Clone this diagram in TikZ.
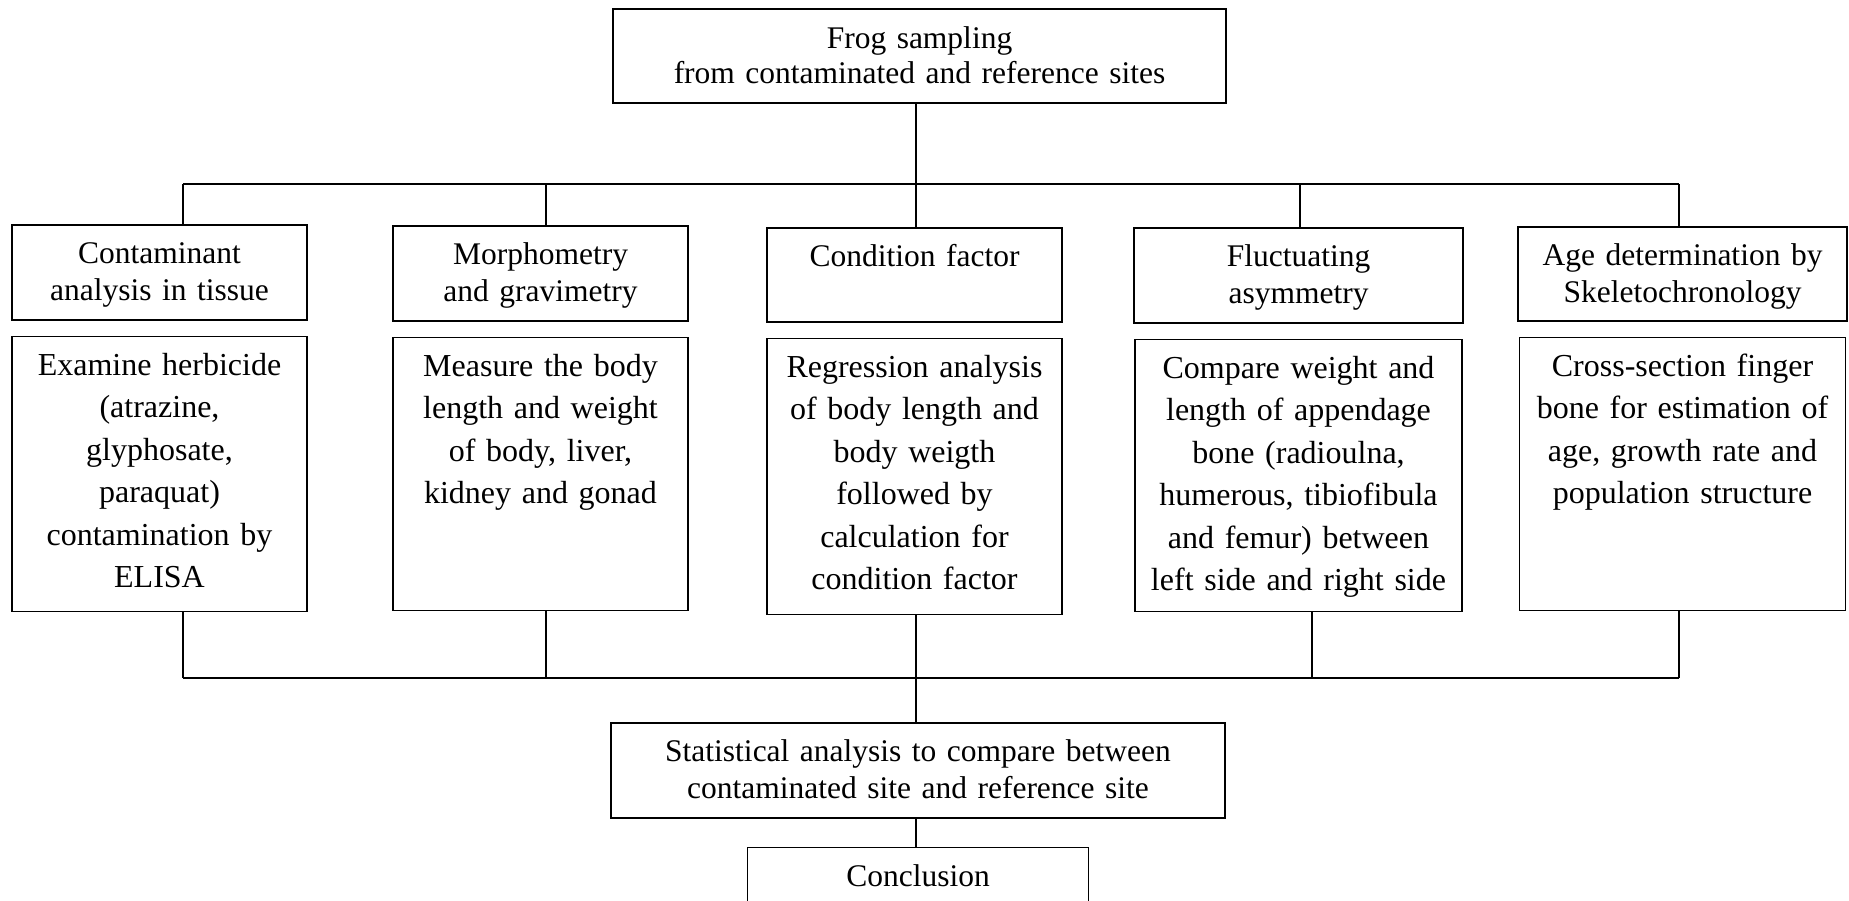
\documentclass[tikz,border=0pt]{standalone}
\usepackage{fontspec}
\setmainfont{Liberation Serif}
\usetikzlibrary{positioning}

\begin{document}
\begin{tikzpicture}[x=1pt, y=-1pt,
  every node/.style={align=center},
  box/.style={draw, line width=1.6pt, anchor=north, inner xsep=0pt,
              inner ysep=0pt, text height=39pt},
  head/.style={box, font=\fontsize{31.5}{37}\selectfont},
  detail/.style={box, font=\fontsize{32}{42.5}\selectfont},
  link/.style={line width=1.6pt}
]
  \useasboundingbox (0,0) rectangle (1849,901);

  \node (top) at (919.5,8) [box, font=\fontsize{31.5}{35}\selectfont,
       text height=40pt, text depth=54pt, text width=613pt]
       {Frog sampling\\ from contaminated and reference sites};

  \node (h1) at (159.5,224) [head, text width=295pt, text depth=56pt]
       {Contaminant\\ analysis in tissue};
  \node (h2) at (540.5,225) [head, text width=295pt, text depth=56pt]
       {Morphometry\\ and gravimetry};
  \node (h3) at (914.5,227) [head, text width=295pt, text depth=55pt]
       {Condition factor};
  \node (h4) at (1298.5,227) [head, text width=329pt, text depth=56pt]
       {Fluctuating\\ asymmetry};
  \node (h5) at (1682.5,226) [head, text width=329pt, text depth=55pt]
       {Age determination by\\ Skeletochronology};

  \node[below=15pt of h1] (d1) [detail, text width=295pt, text depth=236pt]
       {Examine herbicide\\ (atrazine,\\ glyphosate,\\ paraquat)\\ contamination by\\ ELISA};
  \node[below=15pt of h2] (d2) [detail, text width=295pt, text depth=234pt]
       {Measure the body\\ length and weight\\ of body, liver,\\ kidney and gonad};
  \node[below=15pt of h3] (d3) [detail, text width=295pt, text depth=237pt]
       {Regression analysis\\ of body length and\\ body weigth\\ followed by\\ calculation for\\ condition factor};
  \node[below=15pt of h4] (d4) [detail, text width=327pt, text depth=233pt]
       {Compare weight and\\ length of appendage\\ bone (radioulna,\\ humerous, tibiofibula\\ and femur) between\\ left side and right side};
  \node[below=15pt of h5] (d5) [detail, text width=326pt, text depth=234pt]
       {Cross-section finger\\ bone for estimation of\\ age, growth rate and\\ population structure};

  \node (stats) at (918,722) [head, text width=614pt, text depth=56pt]
       {Statistical analysis to compare between\\ contaminated site and reference site};
  \node[below=28pt of stats] (concl) [head, text width=341pt, text depth=31pt]
       {Conclusion};

  \coordinate (t1) at (183,184);
  \coordinate (t2) at (546,184);
  \coordinate (t3) at (916,184);
  \coordinate (t4) at (1300,184);
  \coordinate (t5) at (1679,184);
  \coordinate (b1) at (183,678);
  \coordinate (b2) at (546,678);
  \coordinate (b3) at (916,678);
  \coordinate (b4) at (1312,678);
  \coordinate (b5) at (1679,678);

  \draw[link] (top.south -| t3) -- (t3);
  \draw[link] (t1) -- (t5);
  \draw[link] (b1) -- (b5);
  \foreach \i in {1,...,5} {
    \draw[link] (t\i) -- (t\i |- h\i.north);
    \draw[link] (d\i.south -| b\i) -- (b\i);
  }
  \draw[link] (b3) -- (b3 |- stats.north);
  \draw[link] (stats.south -| b3) -- (b3 |- concl.north);
\end{tikzpicture}
\end{document}
